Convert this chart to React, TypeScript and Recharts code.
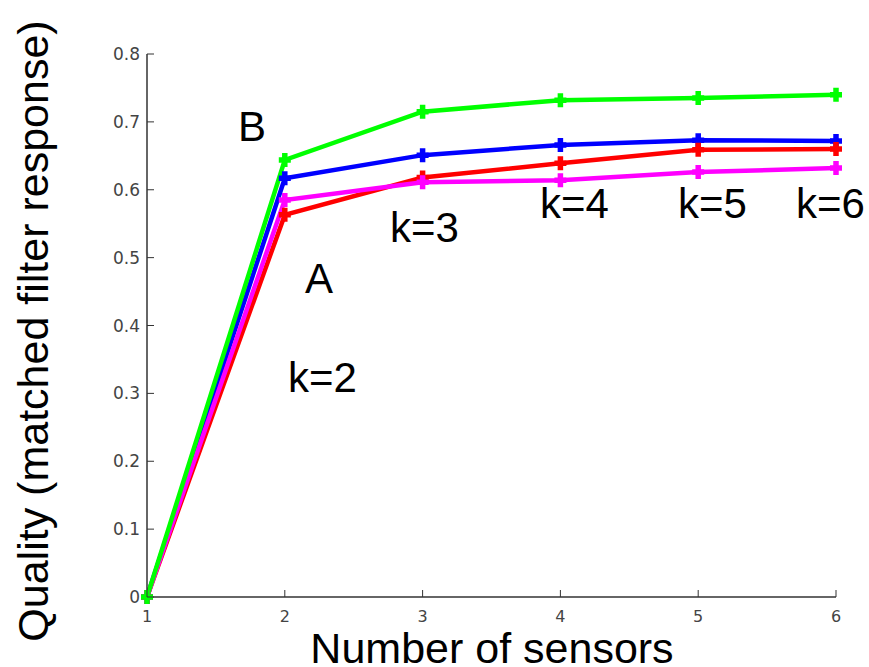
import React from "react";
import { LineChart, Line, XAxis, YAxis, Customized } from "recharts";

const sensors = [1, 2, 3, 4, 5, 6];
const greenB = [0, 0.644, 0.715, 0.732, 0.735, 0.74];
const blue = [0, 0.617, 0.651, 0.666, 0.673, 0.672];
const redA = [0, 0.563, 0.618, 0.639, 0.659, 0.66];
const magenta = [0, 0.585, 0.611, 0.614, 0.626, 0.632];
const xTicks = [1, 2, 3, 4, 5, 6];
const yTicks = [0, 0.1, 0.2, 0.3, 0.4, 0.5, 0.6, 0.7, 0.8];
const annotations = [
  { text: "B", x: 238, y: 141 },
  { text: "A", x: 305, y: 293 },
  { text: "k=2", x: 288, y: 392 },
  { text: "k=3", x: 390, y: 242 },
  { text: "k=4", x: 540, y: 218 },
  { text: "k=5", x: 678, y: 218 },
  { text: "k=6", x: 796, y: 218 },
];

const data = sensors.map((s, i) => ({
  s,
  green: greenB[i],
  blue: blue[i],
  red: redA[i],
  magenta: magenta[i],
}));

const TICK_FONT = "'DejaVu Sans', sans-serif";
const TEXT_FONT = "'Liberation Sans', Arial, sans-serif";
const AXIS = "#333";

const fmtY = (v: number) => (v === 0 ? "0" : v.toFixed(1));

const BottomTick = (props: any) => {
  const { x, y, payload } = props;
  return (
    <g>
      <line x1={x} x2={x} y1={y} y2={y - 7} stroke={AXIS} strokeWidth={1} />
      <text x={x} y={y + 25} textAnchor="middle" fontFamily={TICK_FONT} fontSize={16} fill="#444">
        {payload.value}
      </text>
    </g>
  );
};
const TopTick = (props: any) => {
  const { x, y } = props;
  return <line x1={x} x2={x} y1={y} y2={y + 7} stroke={AXIS} strokeWidth={1} />;
};
const LeftTick = (props: any) => {
  const { x, y, payload } = props;
  return (
    <g>
      <line x1={x} x2={x + 7} y1={y} y2={y} stroke={AXIS} strokeWidth={1} />
      <text x={x - 7} y={y + 6} textAnchor="end" fontFamily={TICK_FONT} fontSize={17} fill="#444">
        {fmtY(payload.value)}
      </text>
    </g>
  );
};
const RightTick = (props: any) => {
  const { x, y } = props;
  return <line x1={x} x2={x - 7} y1={y} y2={y} stroke={AXIS} strokeWidth={1} />;
};

const makeDot = (color: string) => (props: any) => {
  const { cx, cy, index } = props;
  return (
    <path
      key={`d-${color}-${index}`}
      d={`M${cx - 6},${cy}H${cx + 6}M${cx},${cy - 7}V${cy + 7}`}
      stroke={color}
      strokeWidth={5.5}
      fill="none"
    />
  );
};

const Texts = () => (
  <g>
    {annotations.map((a) => (
      <text key={a.text} x={a.x} y={a.y} fontFamily={TEXT_FONT} fontSize={42} fill="#000">
        {a.text}
      </text>
    ))}
    <text x={492} y={663} textAnchor="middle" fontFamily={TEXT_FONT} fontSize={43} fill="#000">
      Number of sensors
    </text>
    <text
      x={48}
      y={331}
      textAnchor="middle"
      transform="rotate(-90, 48, 331)"
      fontFamily={TEXT_FONT}
      fontSize={43}
      fill="#000"
    >
      Quality (matched filter response)
    </text>
  </g>
);

export default function App() {
  return (
    <div style={{ position: "absolute", left: 0, top: 0, width: 869, height: 667, background: "#fff" }}>
      <LineChart width={869} height={667} data={data} margin={{ top: 54, right: 33, bottom: 0, left: 87 }}>
        <XAxis
          dataKey="s"
          type="number"
          domain={[1, 6]}
          ticks={xTicks}
          height={70}
          tickSize={0}
          tickMargin={0}
          tickLine={false}
          axisLine={{ stroke: AXIS, strokeWidth: 1.5 }}
          tick={<BottomTick />}
          interval={0}
        />
        <XAxis
          xAxisId="top"
          orientation="top"
          dataKey="s"
          type="number"
          domain={[1, 6]}
          ticks={xTicks}
          height={0}
          tickSize={0}
          tickMargin={0}
          tickLine={false}
          axisLine={{ stroke: AXIS, strokeWidth: 1.5 }}
          tick={<TopTick />}
          interval={0}
        />
        <YAxis
          type="number"
          domain={[0, 0.8]}
          ticks={yTicks}
          width={60}
          tickSize={0}
          tickMargin={0}
          tickLine={false}
          axisLine={{ stroke: AXIS, strokeWidth: 1.5 }}
          tick={<LeftTick />}
          interval={0}
        />
        <YAxis
          yAxisId="right"
          orientation="right"
          type="number"
          domain={[0, 0.8]}
          ticks={yTicks}
          width={0}
          tickSize={0}
          tickMargin={0}
          tickLine={false}
          axisLine={{ stroke: AXIS, strokeWidth: 1.5 }}
          tick={<RightTick />}
          interval={0}
        />
        <Line dataKey="blue" stroke="#0000ff" strokeWidth={4.5} dot={makeDot("#0000ff")} isAnimationActive={false} />
        <Line dataKey="red" stroke="#ff0000" strokeWidth={4.5} dot={makeDot("#ff0000")} isAnimationActive={false} />
        <Line dataKey="magenta" stroke="#ff00ff" strokeWidth={4.5} dot={makeDot("#ff00ff")} isAnimationActive={false} />
        <Line dataKey="green" stroke="#00ff00" strokeWidth={4.5} dot={makeDot("#00ff00")} isAnimationActive={false} />
        <Customized component={Texts} />
      </LineChart>
    </div>
  );
}
